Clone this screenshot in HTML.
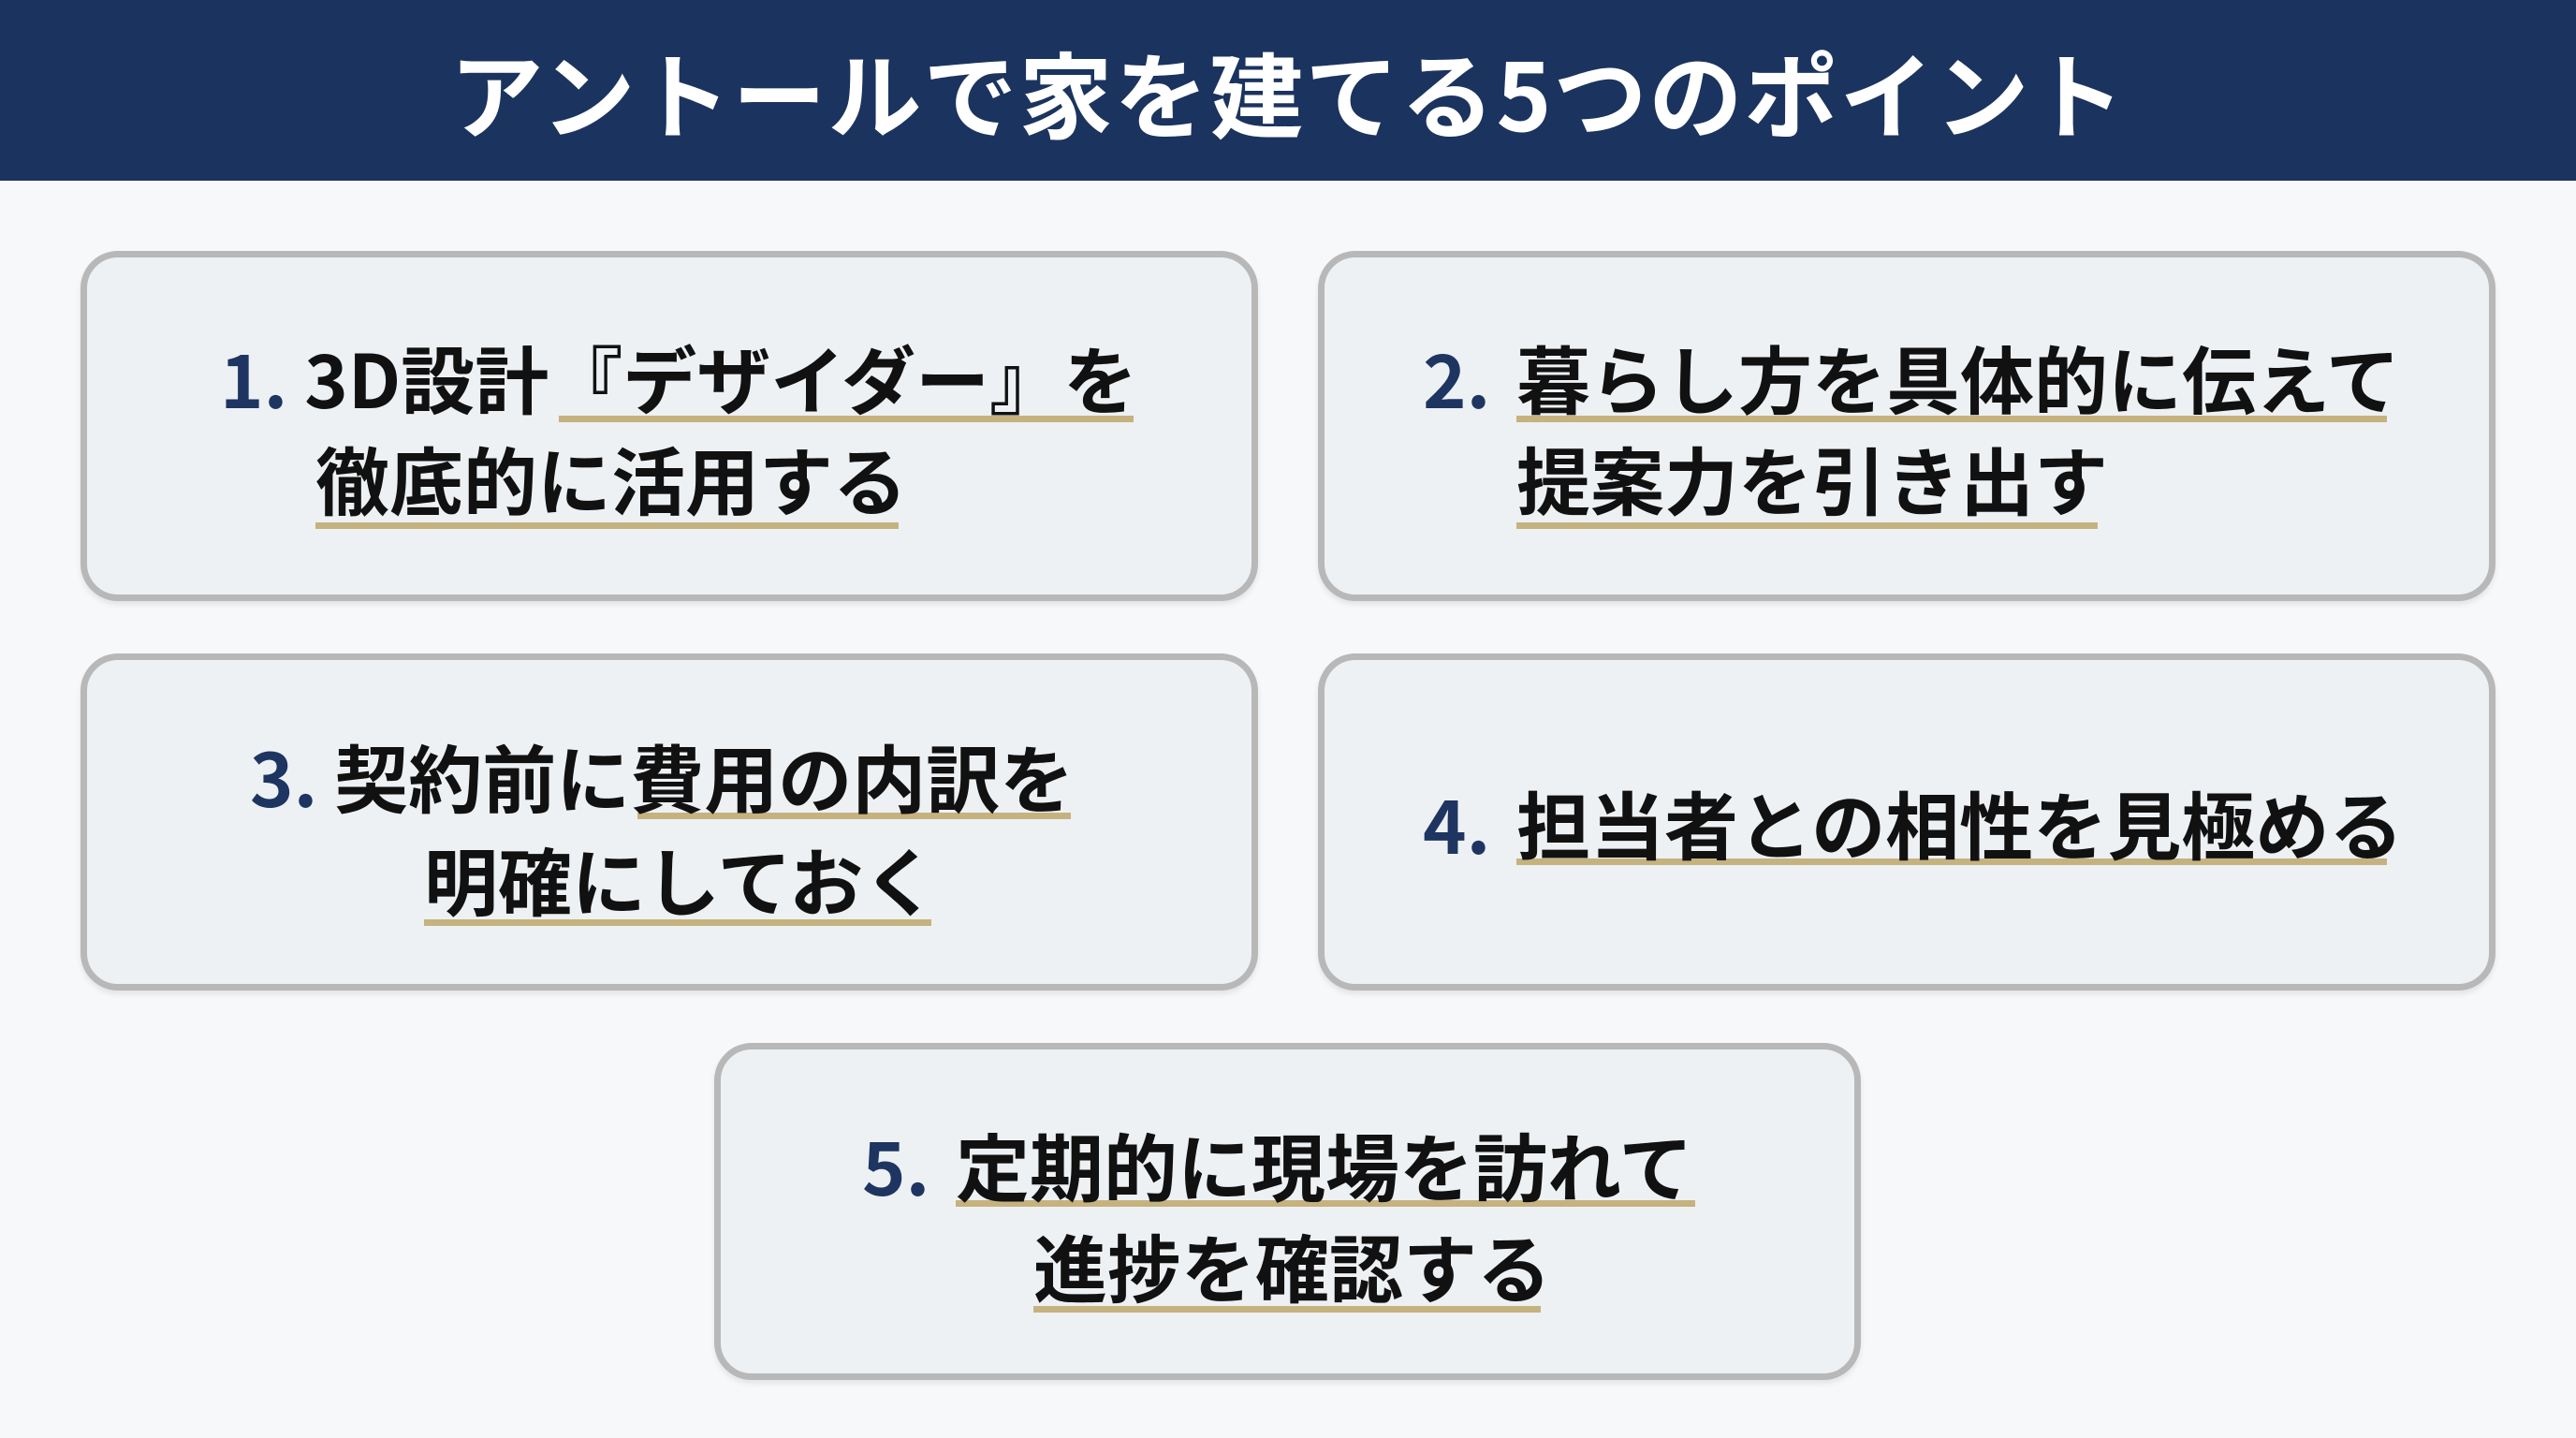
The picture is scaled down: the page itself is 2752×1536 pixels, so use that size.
<!DOCTYPE html>
<html><head><meta charset="utf-8"><style>
html,body{margin:0;padding:0}
body{width:2752px;height:1536px;position:relative;overflow:hidden;background:#f7f8f9;font-family:"Liberation Sans","Noto Sans CJK JP",sans-serif}
.hdr{position:absolute;left:0;top:0;width:2752px;height:193px;background:#1b335f;color:#fff;font-weight:700;font-size:100px;line-height:193px;text-align:center;font-family:"Noto Sans CJK JP",sans-serif;letter-spacing:2px}
.box{position:absolute;box-sizing:border-box;background:#edf1f4;border:7px solid #b8b8b8;border-radius:40px;box-shadow:0 4px 6px rgba(0,0,0,0.08)}
.t{position:absolute;white-space:nowrap;font-family:"Noto Sans CJK JP",sans-serif;font-weight:700;font-size:79px;line-height:79px;color:#111}
.n{color:#1e3561}
.u{position:absolute;height:7px;background:#c6b27e}
</style></head><body>
<div class="hdr">アントールで家を建てる5つのポイント</div>

<div class="box" style="left:86px;top:268px;width:1258px;height:374px"></div>
<div class="box" style="left:1408px;top:268px;width:1258px;height:374px"></div>
<div class="box" style="left:86px;top:698px;width:1258px;height:360px"></div>
<div class="box" style="left:1408px;top:698px;width:1258px;height:360px"></div>
<div class="box" style="left:763px;top:1114px;width:1225px;height:360px"></div>

<!-- 1 -->
<div class="u" style="left:597px;top:444px;width:614px"></div>
<div class="u" style="left:337px;top:558px;width:623px"></div>
<div class="t" style="left:235px;top:362px"><span class="n">1.</span> 3D設計『デザイダー』を</div>
<div class="t" style="left:337px;top:470px">徹底的に活用する</div>

<!-- 2 -->
<div class="u" style="left:1620px;top:444px;width:930px"></div>
<div class="u" style="left:1620px;top:558px;width:621px"></div>
<div class="t n" style="left:1520px;top:362px">2.</div>
<div class="t" style="left:1620px;top:362px">暮らし方を具体的に伝えて</div>
<div class="t" style="left:1620px;top:470px">提案力を引き出す</div>

<!-- 3 -->
<div class="u" style="left:681px;top:868px;width:463px"></div>
<div class="u" style="left:453px;top:982px;width:542px"></div>
<div class="t" style="left:267px;top:788px"><span class="n">3.</span> 契約前に費用の内訳を</div>
<div class="t" style="left:453px;top:898px">明確にしておく</div>

<!-- 4 -->
<div class="u" style="left:1620px;top:917px;width:930px"></div>
<div class="t n" style="left:1520px;top:838px">4.</div>
<div class="t" style="left:1620px;top:838px">担当者との相性を見極める</div>

<!-- 5 -->
<div class="u" style="left:1021px;top:1282px;width:790px"></div>
<div class="u" style="left:1104px;top:1395px;width:542px"></div>
<div class="t n" style="left:921px;top:1203px">5.</div>
<div class="t" style="left:1021px;top:1203px">定期的に現場を訪れて</div>
<div class="t" style="left:1104px;top:1311px">進捗を確認する</div>
</body></html>
